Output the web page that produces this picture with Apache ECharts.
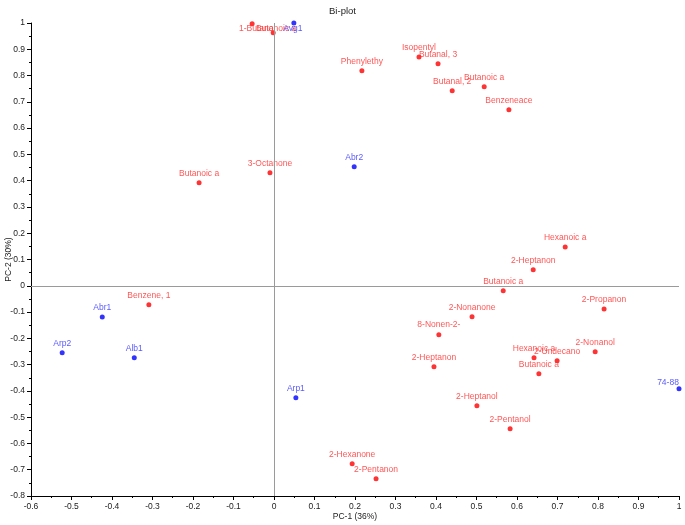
<!DOCTYPE html>
<html>
<head>
<meta charset="utf-8">
<script src="https://cdn.jsdelivr.net/npm/echarts@6/dist/echarts.min.js"></script>
<style>
html,body{margin:0;padding:0;background:#fff;}
#chart{width:685px;height:525px;}
</style>
</head>
<body>
<div id="chart"></div>
<script>
// Variables (red)
const varNames = ['1-Butanol','Butanoic a','Phenylethy','Isopentyl','Butanal, 3','Butanal, 2','Butanoic a','Benzeneace',
  'Butanoic a','3-Octanone','Hexanoic a','2-Heptanon','Butanoic a','2-Propanon','2-Nonanone','8-Nonen-2-',
  '2-Heptanon','Hexanoic a','2-Undecano','Butanoic a','2-Nonanol','2-Heptanol','2-Pentanol','2-Hexanone','2-Pentanon','Benzene, 1'];
const varX = [-0.054,-0.002,0.217,0.358,0.405,0.440,0.519,0.580,
  -0.185,-0.010,0.719,0.640,0.566,0.815,0.489,0.407,
  0.395,0.642,0.699,0.654,0.793,0.501,0.583,0.193,0.252,-0.309];
const varY = [0.997,0.963,0.818,0.871,0.845,0.742,0.757,0.670,
  0.392,0.430,0.148,0.061,-0.019,-0.088,-0.118,-0.186,
  -0.308,-0.274,-0.285,-0.335,-0.251,-0.457,-0.544,-0.677,-0.734,-0.072];

// Samples (blue)
const sampleNames = ['Avg1','Abr2','Abr1','Arp2','Alb1','Arp1','74-88'];
const sampleX = [0.049,0.198,-0.424,-0.523,-0.345,0.054,1.0];
const sampleY = [1.0,0.453,-0.119,-0.255,-0.274,-0.426,-0.392];

// Axis ticks
const xMin = -0.6, xMax = 1, xStep = 0.1;
const yMin = -0.8, yMax = 1, yStep = 0.1;

// label placement tweaks (styling, not data)
const varLabelAdjust = {0:[5,5], 1:[3,-4]};
const sampleLabelAdjust = {0:[-1,6], 6:[-11,-6]};

function build(names, xs, ys, adjust) {
  return names.map((n, i) => {
    const item = {name: n, value: [xs[i], ys[i]]};
    if (adjust[i]) {
      item.label = {position: 'inside', offset: adjust[i]};
    }
    return item;
  });
}

const chart = echarts.init(document.getElementById('chart'), null, {renderer: 'canvas'});
const FONT = 'Liberation Sans, Arial, sans-serif';
const axisFont = {fontFamily: FONT, fontSize: 8.5, color: '#222'};

chart.setOption({
  animation: false,
  backgroundColor: '#fff',
  title: {
    text: 'Bi-plot', left: 'center', top: 1,
    textStyle: {fontFamily: FONT, fontSize: 9.5, fontWeight: 'normal', color: '#222'}
  },
  grid: {left: 31, right: 6, top: 23, bottom: 29, containLabel: false, outerBoundsMode: 'none'},
  xAxis: {
    type: 'value', min: xMin, max: xMax, interval: xStep,
    name: 'PC-1 (36%)', nameLocation: 'middle', nameGap: 16, nameMoveOverlap: false,
    nameTextStyle: axisFont,
    axisLine: {onZero: false, lineStyle: {color: '#000', width: 1}},
    axisTick: {length: 4, lineStyle: {color: '#000'}},
    minorTick: {show: true, splitNumber: 2, length: 2, lineStyle: {color: '#000'}},
    splitLine: {show: false},
    axisLabel: Object.assign({margin: 6}, axisFont)
  },
  yAxis: {
    type: 'value', min: yMin, max: yMax, interval: yStep,
    name: 'PC-2 (30%)', nameLocation: 'middle', nameGap: 18, nameMoveOverlap: false,
    nameTextStyle: axisFont,
    axisLine: {onZero: false, lineStyle: {color: '#000', width: 1}},
    axisTick: {length: 4, lineStyle: {color: '#000'}},
    minorTick: {show: true, splitNumber: 2, length: 2, lineStyle: {color: '#000'}},
    splitLine: {show: false},
    axisLabel: Object.assign({margin: 6}, axisFont)
  },
  series: [
    {
      type: 'scatter', name: 'variables', symbolSize: 5, clip: false,
      itemStyle: {color: '#ff0000'},
      label: {show: true, position: 'top', distance: 2.5, formatter: '{b}',
        fontFamily: FONT, fontSize: 8.5, color: '#ff2a2a'},
      data: build(varNames, varX, varY, varLabelAdjust),
      markLine: {
        silent: true, symbol: 'none', label: {show: false},
        lineStyle: {color: '#9a9a9a', type: 'solid', width: 1},
        data: [{xAxis: 0}, {yAxis: 0}]
      },
      z: 3
    },
    {
      type: 'scatter', name: 'samples', symbolSize: 5, clip: false,
      itemStyle: {color: '#0000ff'},
      label: {show: true, position: 'top', distance: 2.5, formatter: '{b}',
        fontFamily: FONT, fontSize: 8.5, color: '#3030ff'},
      data: build(sampleNames, sampleX, sampleY, sampleLabelAdjust),
      z: 4
    }
  ]
});
</script>
</body>
</html>
